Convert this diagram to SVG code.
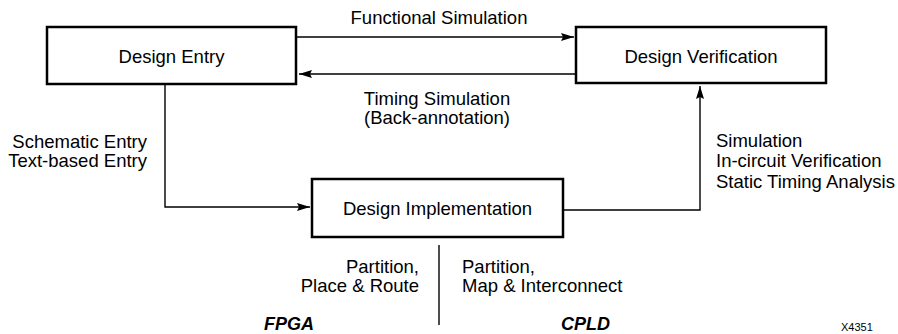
<svg xmlns="http://www.w3.org/2000/svg" width="898" height="334" viewBox="0 0 898 334">
<defs>
<marker id="ah" viewBox="0 0 13 8" refX="13" refY="4" markerWidth="13" markerHeight="8" markerUnits="userSpaceOnUse" orient="auto">
<path d="M0,0 L13,4 L0,8 L2,4 Z" fill="#000"/>
</marker>
<style>
text{font-family:"Liberation Sans",Arial,sans-serif;font-size:18.5px;fill:#000}
.box{fill:#fff;stroke:#000;stroke-width:2.5}
.ln{fill:none;stroke:#000;stroke-width:1.4}
.c{text-anchor:middle}
.r{text-anchor:end}
.bi{font-weight:bold;font-style:italic;font-size:18px}
.sm{font-size:11px}
</style>
</defs>
<g id="connectors">
<line class="ln" x1="297" y1="37" x2="574" y2="37" marker-end="url(#ah)"/>
<line class="ln" x1="576" y1="74" x2="299" y2="74" marker-end="url(#ah)"/>
<polyline class="ln" points="165,85 165,207 310,207" marker-end="url(#ah)"/>
<polyline class="ln" points="564,210 700,210 700,86" marker-end="url(#ah)"/>
<line class="ln" x1="439" y1="245" x2="439" y2="325"/>
</g>
<g id="design-entry">
<rect class="box" x="47" y="27" width="249" height="57"/>
<text class="c" x="171.5" y="63">Design Entry</text>
</g>
<g id="design-verification">
<rect class="box" x="576" y="27" width="250" height="56"/>
<text class="c" x="701" y="63">Design Verification</text>
</g>
<g id="design-implementation">
<rect class="box" x="312" y="179" width="251" height="58"/>
<text class="c" x="437.5" y="215">Design Implementation</text>
</g>
<g id="labels">
<text class="c" x="439" y="24">Functional Simulation</text>
<text class="c" x="437" y="105">Timing Simulation</text>
<text class="c" x="437" y="124">(Back-annotation)</text>
<text class="r" x="147" y="148">Schematic Entry</text>
<text class="r" x="147" y="167">Text-based Entry</text>
<text x="716" y="147">Simulation</text>
<text x="716" y="167">In-circuit Verification</text>
<text x="716" y="188">Static Timing Analysis</text>
<text class="r" x="419" y="273">Partition,</text>
<text class="r" x="419" y="292">Place &amp; Route</text>
<text x="462" y="273">Partition,</text>
<text x="462" y="292">Map &amp; Interconnect</text>
<text class="bi" x="264" y="330">FPGA</text>
<text class="bi" x="561" y="330">CPLD</text>
<text class="sm" x="841" y="331">X4351</text>
</g>
</svg>
